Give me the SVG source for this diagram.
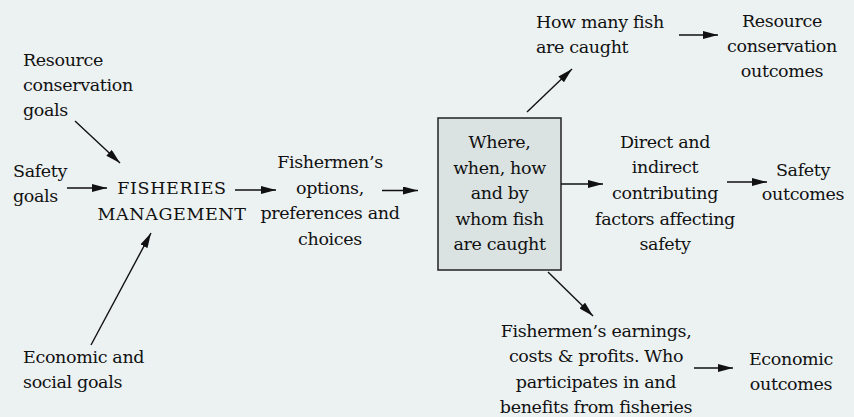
<svg xmlns="http://www.w3.org/2000/svg" width="854" height="417" viewBox="0 0 854 417">
<defs>
<style>
text{font-family:"DejaVu Serif","Liberation Serif",serif;font-size:17.5px;letter-spacing:-0.35px;fill:#111}
.c{text-anchor:middle}
.m{letter-spacing:0.6px}
.ln{stroke:#111;stroke-width:1.4;fill:none;marker-end:url(#ah)}
</style>
<marker id="ah" markerUnits="userSpaceOnUse" markerWidth="16" markerHeight="8" refX="15" refY="4" orient="auto">
<path d="M0,0 L15,4 L0,8 z" fill="#111"/>
</marker>
</defs>
<rect width="854" height="417" fill="#ECF1F2"/>
<g id="n-resource-goals"><text x="23" y="66">Resource</text><text x="23" y="91">conservation</text><text x="23" y="116">goals</text></g>
<g id="n-safety-goals"><text x="13" y="177">Safety</text><text x="13" y="202">goals</text></g>
<g id="n-economic-goals"><text x="23" y="363">Economic and</text><text x="23" y="388">social goals</text></g>
<g id="n-management"><text class="c m" x="172" y="194">FISHERIES</text><text class="c m" x="172" y="220">MANAGEMENT</text></g>
<g id="n-options"><text class="c" x="330" y="168">Fishermen’s</text><text class="c" x="330" y="193.5">options,</text><text class="c" x="330" y="219">preferences and</text><text class="c" x="330" y="244.5">choices</text></g>
<g id="n-where"><rect x="438" y="118" width="123" height="152" fill="#DAE2E2" stroke="#222" stroke-width="1.5"/><text class="c" x="499.5" y="148">Where,</text><text class="c" x="499.5" y="174">when, how</text><text class="c" x="499.5" y="199">and by</text><text class="c" x="499.5" y="225">whom fish</text><text class="c" x="499.5" y="250">are caught</text></g>
<g id="n-howmany"><text x="536" y="28">How many fish</text><text x="536" y="53">are caught</text></g>
<g id="n-res-out"><text class="c" x="782" y="27">Resource</text><text class="c" x="782" y="52">conservation</text><text class="c" x="782" y="77">outcomes</text></g>
<g id="n-direct"><text class="c" x="665" y="148">Direct and</text><text class="c" x="665" y="173">indirect</text><text class="c" x="665" y="199">contributing</text><text class="c" x="665" y="225">factors affecting</text><text class="c" x="665" y="250">safety</text></g>
<g id="n-safety-out"><text class="c" x="803" y="176">Safety</text><text class="c" x="803" y="200">outcomes</text></g>
<g id="n-earnings"><text class="c" x="596" y="337">Fishermen’s earnings,</text><text class="c" x="596" y="362">costs &amp; profits. Who</text><text class="c" x="596" y="388">participates in and</text><text class="c" x="596" y="413">benefits from fisheries</text></g>
<g id="n-econ-out"><text class="c" x="791" y="365">Economic</text><text class="c" x="791" y="390">outcomes</text></g>
<g id="connectors">
<line class="ln" x1="75" y1="121" x2="120" y2="163"/>
<line class="ln" x1="67" y1="188" x2="107" y2="188"/>
<line class="ln" x1="91" y1="345" x2="151" y2="233"/>
<line class="ln" x1="235" y1="190" x2="276" y2="190"/>
<line class="ln" x1="382" y1="190.5" x2="418" y2="190.5"/>
<line class="ln" x1="527" y1="112" x2="572" y2="69"/>
<line class="ln" x1="561" y1="184" x2="603" y2="184"/>
<line class="ln" x1="548" y1="272" x2="593" y2="316"/>
<line class="ln" x1="679" y1="35" x2="718" y2="35"/>
<line class="ln" x1="727" y1="182" x2="767" y2="182"/>
<line class="ln" x1="694" y1="368" x2="733" y2="368"/>
</g>
</svg>
